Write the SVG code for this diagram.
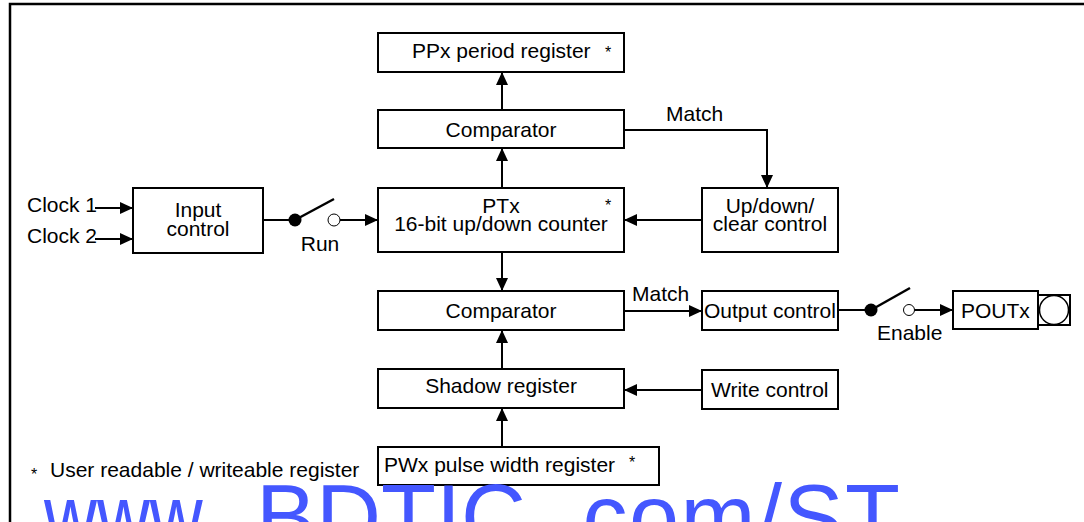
<svg xmlns="http://www.w3.org/2000/svg" width="1084" height="522" viewBox="0 0 1084 522">
<defs>
<style>
text{font-family:"Liberation Sans",Arial,Helvetica,sans-serif;font-size:21px;fill:#000}
.m{text-anchor:middle}
.ast{font-size:16px}
.box{fill:#fff;stroke:#000;stroke-width:2}
.ln{fill:none;stroke:#000;stroke-width:2}
.wm{font-size:90px;fill:#4457ff}
</style>
<marker id="ah" markerUnits="userSpaceOnUse" markerWidth="14" markerHeight="12" refX="13" refY="6" orient="auto">
<path d="M0,0 L13,6 L0,12 z" fill="#000"/>
</marker>
</defs>
<rect width="1084" height="522" fill="#fff"/>
<path d="M10,522 V4 H1084" fill="none" stroke="#000" stroke-width="2.5"/>

<g id="connectors">
<line class="ln" x1="95" y1="208" x2="133" y2="208" marker-end="url(#ah)"/>
<line class="ln" x1="95" y1="239" x2="133" y2="239" marker-end="url(#ah)"/>
<line class="ln" x1="263" y1="220" x2="295" y2="220"/>
<circle cx="295" cy="220" r="6.5" fill="#000"/>
<line x1="295" y1="220" x2="334" y2="199" stroke="#000" stroke-width="2.5"/>
<circle cx="334" cy="220" r="6" fill="#fff" stroke="#000" stroke-width="1"/>
<line class="ln" x1="340" y1="220" x2="378" y2="220" marker-end="url(#ah)"/>
<line class="ln" x1="502" y1="188" x2="502" y2="148" marker-end="url(#ah)"/>
<line class="ln" x1="502" y1="110" x2="502" y2="72" marker-end="url(#ah)"/>
<polyline class="ln" points="624,130 767,130 767,188" marker-end="url(#ah)"/>
<line class="ln" x1="702" y1="220" x2="624" y2="220" marker-end="url(#ah)"/>
<line class="ln" x1="502" y1="252" x2="502" y2="291" marker-end="url(#ah)"/>
<line class="ln" x1="502" y1="369" x2="502" y2="330" marker-end="url(#ah)"/>
<line class="ln" x1="502" y1="447" x2="502" y2="408" marker-end="url(#ah)"/>
<line class="ln" x1="702" y1="390" x2="624" y2="390" marker-end="url(#ah)"/>
<line class="ln" x1="624" y1="311" x2="702" y2="311" marker-end="url(#ah)"/>
<line class="ln" x1="838" y1="310" x2="871" y2="310"/>
<circle cx="871" cy="310" r="6.5" fill="#000"/>
<line x1="871" y1="310" x2="910" y2="288" stroke="#000" stroke-width="2.5"/>
<circle cx="909" cy="310" r="5.5" fill="#fff" stroke="#000" stroke-width="1"/>
<line class="ln" x1="914.5" y1="310" x2="953" y2="310" marker-end="url(#ah)"/>
<text x="27" y="212">Clock 1</text>
<text x="27" y="243">Clock 2</text>
<text class="m" x="320" y="251">Run</text>
<text x="666" y="121">Match</text>
<text x="632" y="301">Match</text>
<text x="877" y="340">Enable</text>
</g>

<g id="input-control">
<rect class="box" x="133" y="188" width="130" height="65"/>
<text class="m" x="198" y="217">Input</text>
<text class="m" x="198" y="236">control</text>
</g>
<g id="ppx">
<rect class="box" x="378" y="33" width="246" height="39"/>
<text x="412" y="58">PPx period register</text>
<text class="ast m" x="608" y="58">*</text>
</g>
<g id="comparator1">
<rect class="box" x="378" y="110" width="246" height="38"/>
<text class="m" x="501" y="137">Comparator</text>
</g>
<g id="ptx">
<rect class="box" x="378" y="188" width="246" height="64"/>
<text class="m" x="501" y="213">PTx</text>
<text class="m" x="501" y="231">16-bit up/down counter</text>
<text class="ast m" x="608" y="211">*</text>
</g>
<g id="updown">
<rect class="box" x="702" y="188" width="136" height="64"/>
<text class="m" x="770" y="213">Up/down/</text>
<text class="m" x="770" y="231">clear control</text>
</g>
<g id="comparator2">
<rect class="box" x="378" y="291" width="246" height="39"/>
<text class="m" x="501" y="318">Comparator</text>
</g>
<g id="output-control">
<rect class="box" x="702" y="291" width="136" height="39"/>
<text x="704" y="318">Output control</text>
</g>
<g id="poutx">
<rect class="box" x="953" y="291" width="85" height="38"/>
<text x="961" y="318">POUTx</text>
<rect class="box" x="1038" y="295" width="32" height="30"/>
<circle cx="1054" cy="310" r="14.5" fill="#fff" stroke="#000" stroke-width="1.5"/>
</g>
<g id="shadow">
<rect class="box" x="378" y="369" width="246" height="39"/>
<text class="m" x="501" y="393">Shadow register</text>
</g>
<g id="write-control">
<rect class="box" x="702" y="370" width="136" height="39"/>
<text x="711" y="397">Write control</text>
</g>
<g id="pwx">
<rect class="box" x="378" y="447" width="281" height="38"/>
<text x="384" y="472">PWx pulse width register</text>
<text class="ast m" x="632" y="468">*</text>
</g>
<g id="footnote">
<text class="ast m" x="34" y="480">*</text>
<text x="50" y="477">User readable / writeable register</text>
</g>
<g id="watermark">
<text class="wm" y="548"><tspan x="44" textLength="175" lengthAdjust="spacingAndGlyphs">www.</tspan><tspan x="256">BDTIC</tspan><tspan x="556" textLength="344" lengthAdjust="spacing">.com/ST</tspan></text>
</g>
</svg>
